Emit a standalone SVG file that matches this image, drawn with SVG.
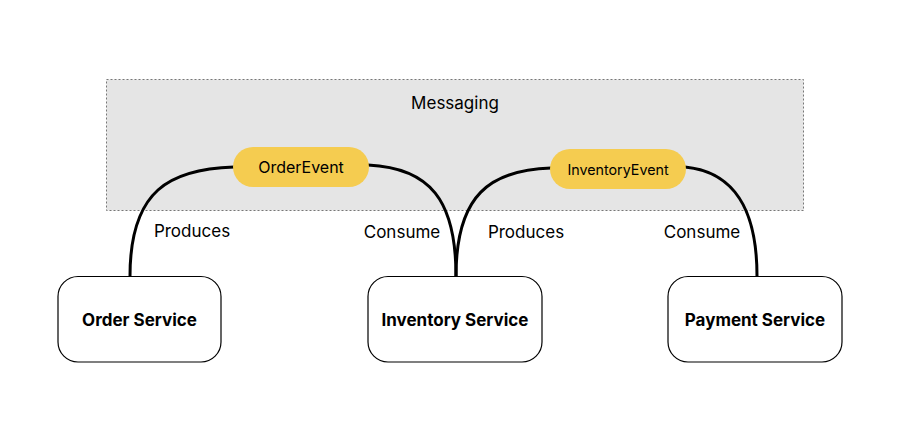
<svg xmlns="http://www.w3.org/2000/svg" width="909" height="428" viewBox="0 0 909 428">
<style>
text{font-family:Inter,"Noto Sans","Liberation Sans",sans-serif;fill:#000}
.svc{fill:#fff;stroke:#000;stroke-width:1.2}
.svc-t{font-size:17px;font-weight:700;text-anchor:middle}
.evt{fill:#f5cc50;stroke:none}
.lbl{font-size:17px;text-anchor:middle}
.edge{fill:none;stroke:#000;stroke-width:3}
</style>
<g id="messaging">
<rect x="106.5" y="79.5" width="697" height="131" fill="#e5e5e5" stroke="#777" stroke-width="1" stroke-dasharray="2,2"/>
<text x="455" y="109" class="lbl">Messaging</text>
</g>
<g id="connectors">
<path class="edge" d="M130,276 C130,190 170,169 234,167"/>
<path class="edge" d="M368,165 C430,168 456,200 456,276"/>
<path class="edge" d="M456,276 C456,195 490,170 551,168"/>
<path class="edge" d="M685,167 C735,172 757,210 757,276"/>
<text x="192" y="237" class="lbl">Produces</text>
<text x="402" y="238" class="lbl">Consume</text>
<text x="526" y="238" class="lbl">Produces</text>
<text x="702" y="238" class="lbl">Consume</text>
</g>
<g id="order-event">
<rect x="233" y="147" width="136" height="40" rx="20" class="evt"/>
<text x="301" y="173" font-size="16px" text-anchor="middle">OrderEvent</text>
</g>
<g id="inventory-event">
<rect x="550" y="149" width="136" height="40" rx="20" class="evt"/>
<text x="618" y="175" font-size="14.3px" text-anchor="middle">InventoryEvent</text>
</g>
<g id="order-service">
<rect x="58" y="276.5" width="163" height="85.5" rx="20" class="svc"/>
<text x="139.5" y="326" class="svc-t">Order Service</text>
</g>
<g id="inventory-service">
<rect x="368" y="276.5" width="174" height="85.5" rx="20" class="svc"/>
<text x="455" y="326" class="svc-t">Inventory Service</text>
</g>
<g id="payment-service">
<rect x="668" y="276.5" width="174" height="85.5" rx="20" class="svc"/>
<text x="755" y="326" class="svc-t">Payment Service</text>
</g>
</svg>
